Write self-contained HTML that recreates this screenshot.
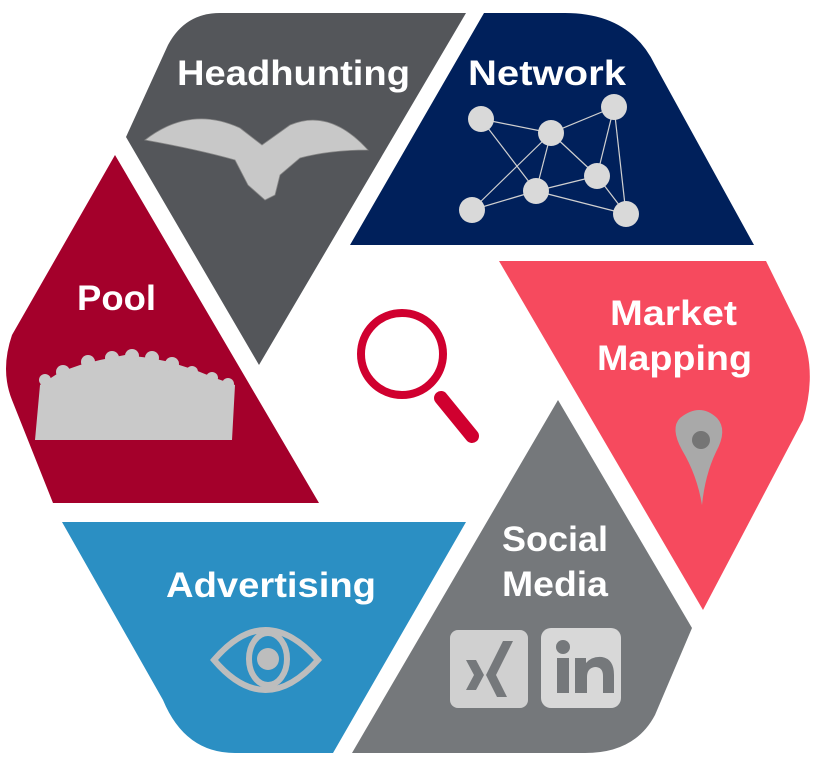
<!DOCTYPE html>
<html><head><meta charset="utf-8"><style>
html,body{margin:0;padding:0;background:#fff;width:820px;height:760px;overflow:hidden}
text{font-family:"Liberation Sans",sans-serif;font-weight:bold;fill:#fff;font-size:35px}
</style></head><body>
<svg width="820" height="760" viewBox="0 0 820 760" xmlns="http://www.w3.org/2000/svg">
<path d="M259,365 L126,137 L168,45 Q185,13 220,13 L466,13 Z" fill="#54565a"/>
<path d="M350,245 L484,13 L565,13 Q630,13 655,65 L754,245 Z" fill="#00205b"/>
<path d="M499,261 L766,261 L800,330 Q818,370 803,420 L703,610 Z" fill="#f64a5e"/>
<path d="M558,400 L692,628 L655,715 Q635,753 585,753 L352,753 Z" fill="#75787b"/>
<path d="M62,522 L466,522 L333,753 L235,753 Q185,753 163,700 Z" fill="#2b8fc3"/>
<path d="M115,155 L319,503 L53,503 L12,400 Q0,370 12,335 Z" fill="#a4002b"/>

<text x="177" y="85" textLength="233" lengthAdjust="spacingAndGlyphs">Headhunting</text>
<text x="468" y="85" textLength="158" lengthAdjust="spacingAndGlyphs">Network</text>
<text x="77" y="310" textLength="79" lengthAdjust="spacingAndGlyphs">Pool</text>
<text x="610" y="325" textLength="127" lengthAdjust="spacingAndGlyphs">Market</text>
<text x="597" y="370" textLength="155" lengthAdjust="spacingAndGlyphs">Mapping</text>
<text x="166" y="597" textLength="210" lengthAdjust="spacingAndGlyphs">Advertising</text>
<text x="502" y="551" textLength="106" lengthAdjust="spacingAndGlyphs">Social</text>
<text x="502" y="596" textLength="106" lengthAdjust="spacingAndGlyphs">Media</text>

<circle cx="402" cy="354" r="41" fill="none" stroke="#d0002f" stroke-width="8"/>
<line x1="441" y1="398" x2="472" y2="436" stroke="#d0002f" stroke-width="14" stroke-linecap="round"/>

<g stroke="#d0d0d0" stroke-width="1.2">
<line x1="481" y1="119" x2="551" y2="133"/><line x1="551" y1="133" x2="614" y2="107"/>
<line x1="481" y1="119" x2="536" y2="191"/><line x1="551" y1="133" x2="472" y2="210"/>
<line x1="551" y1="133" x2="536" y2="191"/><line x1="551" y1="133" x2="597" y2="176"/>
<line x1="614" y1="107" x2="597" y2="176"/><line x1="614" y1="107" x2="626" y2="214"/>
<line x1="536" y1="191" x2="597" y2="176"/><line x1="472" y1="210" x2="536" y2="191"/>
<line x1="536" y1="191" x2="626" y2="214"/><line x1="597" y1="176" x2="626" y2="214"/>
</g>
<g fill="#d9d9d9">
<circle cx="481" cy="119" r="13"/><circle cx="551" cy="133" r="13"/><circle cx="614" cy="107" r="13"/>
<circle cx="597" cy="176" r="13"/><circle cx="536" cy="191" r="13"/><circle cx="472" cy="210" r="13"/><circle cx="626" cy="214" r="13"/>
</g>

<g fill="#c8c8c8" stroke="#888" stroke-width="0.8">
<path d="M145,140 Q190,105 240,128 L262,145 L290,125 Q330,108 368,150 Q330,150 300,158 L280,175 L275,195 L265,200 L248,185 L235,160 Q200,150 145,140 Z"/>
</g>

<g fill="#c9c9c9">
<path d="M35,440 L40,385 L60,372 L80,365 L100,360 L125,355 L150,358 L170,362 L195,370 L215,378 L235,385 L232,440 Z"/>
<circle cx="45" cy="380" r="6"/><circle cx="63" cy="372" r="7"/><circle cx="88" cy="362" r="7"/><circle cx="112" cy="358" r="7"/>
<circle cx="132" cy="356" r="7"/><circle cx="152" cy="358" r="7"/><circle cx="172" cy="364" r="7"/><circle cx="192" cy="372" r="6"/><circle cx="212" cy="378" r="6"/><circle cx="228" cy="384" r="6"/>
</g>

<path d="M702,505 Q697,475 682,450 Q670,428 680,418 Q700,402 717,418 Q728,430 716,452 Q705,475 702,505 Z" fill="#a9a9a9"/>
<circle cx="701" cy="440" r="9" fill="#757575"/>

<path d="M214,660 Q265,600 318,660 Q265,720 214,660 Z" fill="none" stroke="#bdbdbd" stroke-width="6"/>
<ellipse cx="268" cy="659" rx="19" ry="26" fill="none" stroke="#bdbdbd" stroke-width="6"/>
<circle cx="268" cy="659" r="11" fill="#bdbdbd"/>

<rect x="450" y="630" width="78" height="78" rx="8" fill="#d0d0d0"/>
<path d="M466,660 L476,660 L484,675 L476,690 L466,690 L474,675 Z" fill="#75787b"/>
<path d="M503,641 L513,641 L496,675 L507,697 L497,697 L486,675 Z" fill="#75787b"/>
<rect x="541" y="628" width="80" height="80" rx="10" fill="#d8d8d8"/>
<circle cx="563" cy="647" r="7" fill="#75787b"/>
<rect x="557" y="658" width="12" height="35" fill="#75787b"/>
<path d="M575,693 L575,658 L586,658 L586,663 Q592,656 602,657 Q614,659 614,675 L614,693 L603,693 L603,676 Q603,667 595,667 Q587,668 587,677 L587,693 Z" fill="#75787b"/>
</svg>
</body></html>
